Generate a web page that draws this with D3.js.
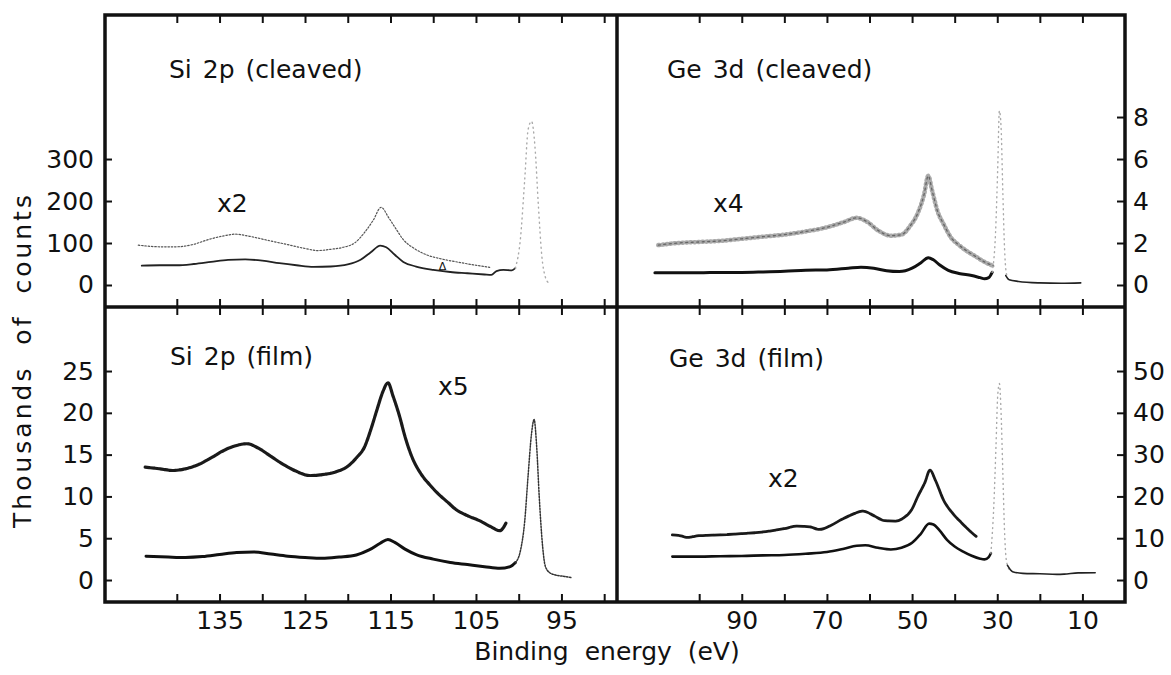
<!DOCTYPE html>
<html>
<head>
<meta charset="utf-8">
<script src="https://cdn.jsdelivr.net/npm/d3@7/dist/d3.min.js"></script>
<style>
  body { margin: 0; background: #fff; }
  text { font-family: "DejaVu Sans", sans-serif; fill: #111; }
</style>
</head>
<body>
<script>
// values: [binding energy (eV), counts]
// left axes in thousands of counts, right axes in their own units

const siTicks = [140, 135, 130, 125, 120, 115, 110, 105, 100, 95, 90];
const siLabels = [135, 125, 115, 105, 95];
const geTicks = [100, 90, 80, 70, 60, 50, 40, 30, 20, 10];
const geLabels = [90, 70, 50, 30, 10];

const yTicksTopL = [0, 100, 200, 300];
const yTicksTopR = [0, 2, 4, 6, 8];
const yTicksBotL = [0, 5, 10, 15, 20, 25];
const yTicksBotR = [0, 10, 20, 30, 40, 50];

// Si 2p (cleaved)
const siCleavedLow = [[144.1,46],[142,47],[140,47],[138,50],[136,55],[134,60],[132,61],[130,58],[128,52],[126,47],[124,43],[122,44],[120,49],[118.5,60],[117.3,78],[116.2,94],[115.5,90],[114.5,72],[113.5,55],[112,44],[110,36],[108,31],[106,28],[104,25],[103.2,24],[102.6,33],[101.8,36],[100.8,35],[100.4,40]];
const siCleavedX2 = [[144.5,95],[142,91],[140,91],[138,97],[136.5,107],[134.5,117],[133.2,121],[131.5,116],[129.5,107],[127,96],[125,87],[123.5,82],[122,85],[120.5,90],[119.2,100],[118,126],[117,155],[116.1,185],[115.2,160],[114.4,135],[113.5,108],[112.3,88],[110.8,72],[109,62],[107,54],[105,47],[103.4,42]];
const siCleavedPeak = [[100.4,40],[99.8,110],[99.3,250],[98.9,370],[98.5,390],[98.1,330],[97.7,190],[97.3,70],[96.9,20],[96.5,5]];

// Ge 3d (cleaved)
const geCleavedLow = [[110.4,0.58],[105,0.58],[100,0.58],[95,0.6],[90,0.6],[85,0.62],[80,0.65],[75,0.7],[70,0.72],[65,0.8],[62,0.85],[59,0.8],[56,0.68],[53,0.64],[50,0.8],[48,1.05],[46.2,1.3],[45,1.2],[43.5,0.95],[41.5,0.7],[39,0.55],[36,0.45],[34,0.35],[33,0.3],[32,0.35],[31.2,0.6]];
const geCleavedX4 = [[109.6,1.9],[105,2.0],[100,2.05],[95,2.1],[90,2.2],[85,2.3],[80,2.4],[75,2.55],[70,2.75],[66,3.0],[63,3.2],[60.5,3.0],[58,2.6],[55,2.35],[52.5,2.4],[50.5,2.8],[48.5,3.5],[47.2,4.3],[46.2,5.2],[45.3,4.5],[44,3.5],[42.6,2.9],[41,2.3],[39,1.9],[37,1.6],[35,1.35],[33,1.1],[30.8,0.9]];
const geCleavedPeak = [[31.2,0.6],[30.4,2.5],[29.9,5.5],[29.5,8.3],[29.1,7.5],[28.7,4.5],[28.3,1.8],[27.9,0.6],[27.3,0.25]];
const geCleavedTail = [[28.0,0.45],[27.2,0.25],[25,0.17],[20,0.1],[15,0.08],[10.4,0.1]];

// Si 2p (film)
const siFilmLow = [[143.6,2.85],[141,2.75],[139,2.7],[137,2.8],[135,3.05],[133,3.3],[131,3.35],[129,3.1],[127,2.85],[125,2.7],[123,2.6],[121,2.75],[119,3.0],[117.5,3.6],[116.2,4.4],[115.3,4.85],[114.5,4.5],[113.3,3.7],[112,3.05],[110,2.5],[108,2.1],[106,1.85],[104,1.6],[102.2,1.4],[101,1.6],[100.4,2.07]];
const siFilmPeak = [[100.4,2.07],[99.8,3.5],[99.3,7],[98.9,12.5],[98.5,17.5],[98.2,19.2],[97.9,16],[97.6,10],[97.2,4],[96.9,1.7],[96.4,0.9],[95.7,0.6],[94.8,0.45],[93.9,0.3]];
const siFilmX5 = [[143.7,13.5],[142,13.3],[140.5,13.1],[139,13.3],[137.5,13.8],[136,14.6],[134.5,15.5],[133,16.1],[131.8,16.3],[130.5,15.8],[129,14.8],[127.5,13.8],[126,13.0],[124.5,12.5],[123,12.6],[121.5,12.9],[120,13.6],[119,14.6],[118,16.0],[117.3,18.0],[116.6,20.3],[115.9,22.5],[115.3,23.6],[114.7,22.0],[114,19.8],[113.2,16.8],[112.4,14.5],[111.5,12.8],[110.5,11.5],[109.5,10.4],[108.3,9.3],[107.3,8.4],[106,7.7],[104.6,7.1],[103.3,6.4],[102.2,5.9],[101.5,6.8]];

// Ge 3d (film)
const geFilmLow = [[106.3,5.6],[100,5.6],[95,5.7],[90,5.75],[85,5.9],[80,6.0],[75,6.3],[70,6.7],[66,7.5],[63,8.2],[61,8.3],[58,7.7],[55,7.3],[52.5,7.7],[50,8.9],[48,11],[46,13.5],[45,13.3],[43.5,11.8],[41.8,9.6],[40,8.0],[38,6.8],[36,5.8],[34,5.1],[33,4.95],[32,5.5],[31.5,6.4]];
const geFilmX2 = [[106.3,10.8],[104,10.5],[103,10.2],[100,10.6],[95,10.8],[90,11.1],[85,11.5],[80,12.3],[77,12.9],[74,12.7],[71.8,12.1],[69,13.1],[66.7,14.4],[64,15.7],[61.5,16.5],[59,15.4],[56.4,14.2],[54,14.1],[52.1,14.8],[50,17.0],[48.7,19.9],[47,23.3],[45.8,26.3],[44.5,23.8],[42.6,19.1],[40.5,16.0],[38.3,13.6],[36.5,11.8],[34.9,10.4]];
const geFilmPeak = [[31.5,6.4],[30.8,18],[30.3,32],[29.9,44],[29.5,47],[29.1,40],[28.7,26],[28.3,12],[27.9,5],[27.2,2.5]];
const geFilmTail = [[27.6,3.5],[26.4,2.0],[24,1.6],[20,1.5],[16,1.35],[14.3,1.4],[11,1.7],[7,1.75]];

let svg = null;
let box = null;
let xSi, xGe, yTopL, yTopR, yBotL, yBotR;

setupLayout();
appendSvg("body");
setupScales();
appendCurves();
appendFrame();
appendXAxes();
appendYAxes();
appendTexts();

function setupLayout() {
  box = {left: 105, mid: 617, right: 1125, top: 15, midY: 307, bottom: 602};
}

function appendSvg(domElement) {
  svg = d3.select(domElement).append("svg")
    .attr("width", 1171)
    .attr("height", 675);
}

function setupScales() {
  xSi = d3.scaleLinear().domain([148.4, 88.5]).range([box.left, box.mid]);
  xGe = d3.scaleLinear().domain([119.3, 0]).range([box.mid, box.right]);
  yTopL = d3.scaleLinear().domain([-52.4, 643]).range([box.midY, box.top]);
  yTopR = d3.scaleLinear().domain([-1.048, 12.86]).range([box.midY, box.top]);
  yBotL = d3.scaleLinear().domain([-2.63, 32.66]).range([box.bottom, box.midY]);
  yBotR = d3.scaleLinear().domain([-5.26, 65.32]).range([box.bottom, box.midY]);
}

function drawLine(data, x, y, style) {
  const line = d3.line()
    .x(d => x(d[0]))
    .y(d => y(d[1]))
    .curve(d3.curveMonotoneX);
  svg.append("path")
    .datum(data)
    .attr("d", line)
    .attr("fill", "none")
    .attr("stroke", style.color)
    .attr("stroke-width", style.width)
    .attr("stroke-dasharray", style.dash || null)
    .attr("stroke-linecap", "round")
    .attr("stroke-linejoin", "round");
}

function appendCurves() {
  // Si 2p cleaved
  drawLine(siCleavedLow, xSi, yTopL, {color: "#222", width: 1.8});
  drawLine(siCleavedX2, xSi, yTopL, {color: "#555", width: 1.2, dash: "1.5,1.8"});
  drawLine(siCleavedPeak, xSi, yTopL, {color: "#aaa", width: 1.4, dash: "1,4"});

  // Ge 3d cleaved (the x4 trace is a noisy speckled band)
  drawLine(geCleavedLow, xGe, yTopR, {color: "#111", width: 3});
  drawLine(geCleavedX4, xGe, yTopR, {color: "#aaa", width: 4.5, dash: "1,3"});
  drawLine(geCleavedX4, xGe, yTopR, {color: "#666", width: 1.3, dash: "2,3.5"});
  drawLine(geCleavedPeak, xGe, yTopR, {color: "#aaa", width: 1.4, dash: "1,4"});
  drawLine(geCleavedTail, xGe, yTopR, {color: "#222", width: 1.6});

  // Si 2p film
  drawLine(siFilmLow, xSi, yBotL, {color: "#111", width: 3});
  drawLine(siFilmPeak, xSi, yBotL, {color: "#333", width: 1.5, dash: "1.5,1.5"});
  drawLine(siFilmX5, xSi, yBotL, {color: "#1a1a1a", width: 3.2, dash: "4,1"});

  // Ge 3d film
  drawLine(geFilmLow, xGe, yBotR, {color: "#111", width: 2.6});
  drawLine(geFilmX2, xGe, yBotR, {color: "#1a1a1a", width: 2.8, dash: "6,1"});
  drawLine(geFilmPeak, xGe, yBotR, {color: "#aaa", width: 1.4, dash: "1,4"});
  drawLine(geFilmTail, xGe, yBotR, {color: "#222", width: 1.6});
}

function appendFrame() {
  const g = svg.append("g").attr("stroke", "#111").attr("stroke-width", 3.5).attr("fill", "none");
  g.append("rect")
    .attr("x", box.left).attr("y", box.top)
    .attr("width", box.right - box.left)
    .attr("height", box.bottom - box.top);
  g.append("line").attr("x1", box.mid).attr("x2", box.mid).attr("y1", box.top).attr("y2", box.bottom);
  g.append("line").attr("x1", box.left).attr("x2", box.right).attr("y1", box.midY).attr("y2", box.midY);
}

function tickStyle(g) {
  g.select(".domain").remove();
  g.selectAll(".tick line").attr("stroke", "#111").attr("stroke-width", 2);
}

function labelStyle(g) {
  g.select(".domain").remove();
  g.selectAll(".tick line").remove();
  g.selectAll(".tick text")
    .attr("fill", "#111")
    .style("font-size", "25px")
    .style("font-family", "'DejaVu Sans', sans-serif");
}

function appendXAxes() {
  [[xSi, siTicks], [xGe, geTicks]].forEach(([x, ticks]) => {
    // inward ticks along the top, middle and bottom edges
    svg.append("g").attr("transform", `translate(0, ${box.top})`)
      .call(d3.axisBottom(x).tickValues(ticks).tickSize(8).tickFormat(""))
      .call(tickStyle);
    svg.append("g").attr("transform", `translate(0, ${box.midY})`)
      .call(d3.axisTop(x).tickValues(ticks).tickSize(8).tickFormat(""))
      .call(tickStyle);
    svg.append("g").attr("transform", `translate(0, ${box.midY})`)
      .call(d3.axisBottom(x).tickValues(ticks).tickSize(8).tickFormat(""))
      .call(tickStyle);
    svg.append("g").attr("transform", `translate(0, ${box.bottom})`)
      .call(d3.axisTop(x).tickValues(ticks).tickSize(8).tickFormat(""))
      .call(tickStyle);
  });

  svg.append("g").attr("transform", `translate(0, ${box.bottom})`)
    .call(d3.axisBottom(xSi).tickValues(siLabels).tickSize(0).tickPadding(9))
    .call(labelStyle);
  svg.append("g").attr("transform", `translate(0, ${box.bottom})`)
    .call(d3.axisBottom(xGe).tickValues(geLabels).tickSize(0).tickPadding(9))
    .call(labelStyle);
}

function appendYAxes() {
  const left = [[yTopL, yTicksTopL], [yBotL, yTicksBotL]];
  const right = [[yTopR, yTicksTopR], [yBotR, yTicksBotR]];

  left.forEach(([y, ticks]) => {
    svg.append("g").attr("transform", `translate(${box.left}, 0)`)
      .call(d3.axisRight(y).tickValues(ticks).tickSize(7).tickFormat(""))
      .call(tickStyle);
    svg.append("g").attr("transform", `translate(${box.left}, 0)`)
      .call(d3.axisLeft(y).tickValues(ticks).tickSize(0).tickPadding(11))
      .call(labelStyle);
  });

  right.forEach(([y, ticks]) => {
    svg.append("g").attr("transform", `translate(${box.right}, 0)`)
      .call(d3.axisLeft(y).tickValues(ticks).tickSize(8).tickFormat(""))
      .call(tickStyle);
    svg.append("g").attr("transform", `translate(${box.right}, 0)`)
      .call(d3.axisRight(y).tickValues(ticks).tickSize(0).tickPadding(8))
      .call(labelStyle);
  });
}

function appendTexts() {
  const titles = [
    {t: "Si 2p (cleaved)", x: 169, y: 78},
    {t: "Ge 3d (cleaved)", x: 667, y: 78},
    {t: "Si 2p (film)", x: 170, y: 365},
    {t: "Ge 3d (film)", x: 669, y: 367},
    {t: "x2", x: 217, y: 212},
    {t: "x4", x: 713, y: 212},
    {t: "x5", x: 438, y: 395},
    {t: "x2", x: 768, y: 487}
  ];
  svg.selectAll("text.title")
    .data(titles)
    .enter().append("text")
    .attr("class", "title")
    .attr("x", d => d.x)
    .attr("y", d => d.y)
    .style("font-size", "25px")
    .style("word-spacing", "3px")
    .text(d => d.t);

  // little triangle marker in the Si 2p cleaved panel
  svg.append("text")
    .attr("x", xSi(108.9))
    .attr("y", yTopL(36))
    .attr("text-anchor", "middle")
    .style("font-size", "11px")
    .text("Δ");

  svg.append("text")
    .attr("x", 607)
    .attr("y", 660)
    .attr("text-anchor", "middle")
    .style("font-size", "25px")
    .style("word-spacing", "8px")
    .text("Binding energy (eV)");

  svg.append("text")
    .attr("transform", "translate(31, 360) rotate(-90)")
    .attr("text-anchor", "middle")
    .style("font-size", "25px")
    .style("letter-spacing", "3px")
    .style("word-spacing", "10px")
    .text("Thousands of counts");
}
</script>
</body>
</html>
